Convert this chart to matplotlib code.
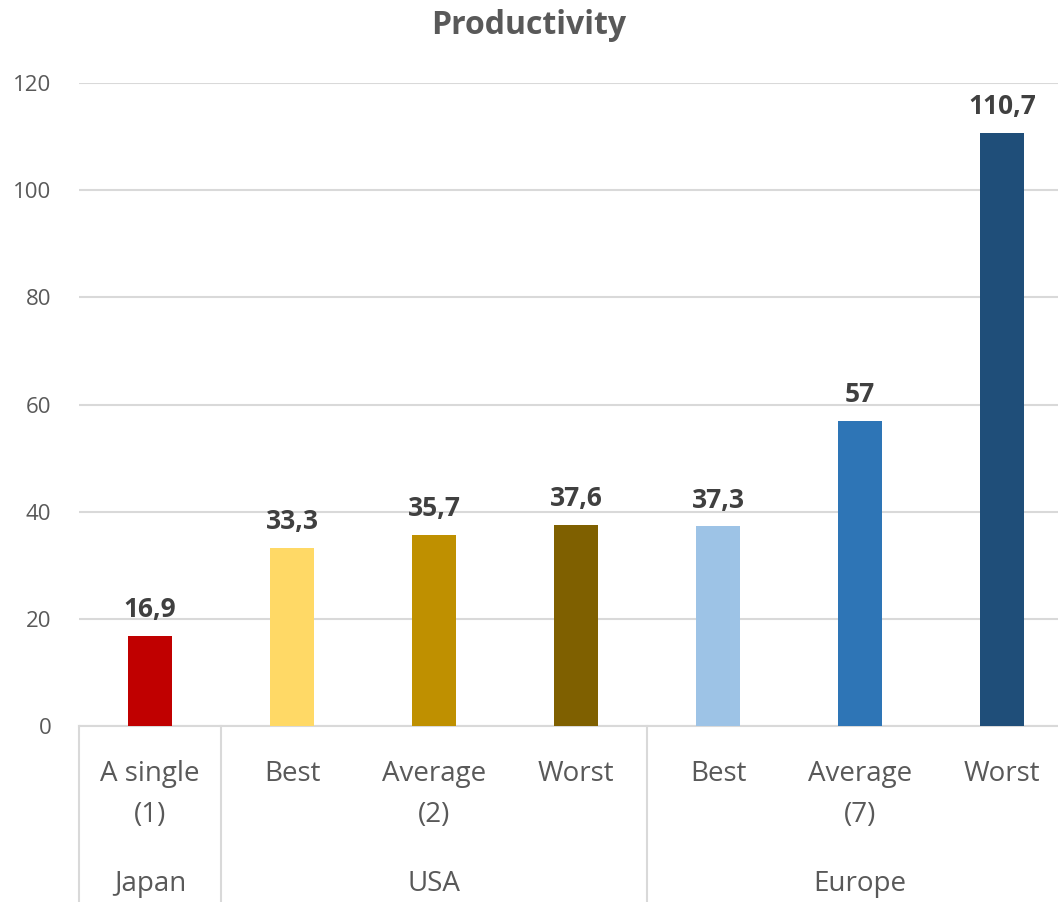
import matplotlib
matplotlib.use("Agg")
import matplotlib.pyplot as plt
from matplotlib.transforms import blended_transform_factory

# data
categories = ["A single\n(1)", "Best", "Average\n(2)", "Worst", "Best", "Average\n(7)", "Worst"]
groups = ["Japan", "USA", "Europe"]
group_sizes = [1, 3, 3]
values = [16.9, 33.3, 35.7, 37.6, 37.3, 57, 110.7]
value_labels = ["16,9", "33,3", "35,7", "37,6", "37,3", "57", "110,7"]
colors = ["#c00000", "#ffd966", "#bf9000", "#7f6000", "#9dc3e6", "#2e75b6", "#1f4e79"]

plt.rcParams['font.family'] = ['Open Sans', 'DejaVu Sans']
txt = "#595959"
grid = "#d9d9d9"

fig = plt.figure(figsize=(10.58, 9.02), dpi=100)
ax = fig.add_axes([0.0747, 0.195, 0.9395, 0.713])

x = list(range(len(values)))
ax.bar(x, values, width=0.31, color=colors, zorder=3)
for xi, v, lab in zip(x, values, value_labels):
    ax.annotate(lab, (xi, v), xytext=(0, 9), textcoords='offset points',
                ha='center', va='bottom', fontsize=19,
                fontweight='bold', color="#404040")

ax.set_xlim(-0.5, len(values) - 0.5)
ax.set_ylim(0, 120)
ax.set_yticks(range(0, 121, 20))
ax.tick_params(axis='y', length=0, labelsize=16, labelcolor=txt, pad=20)
ax.set_xticks([])
ax.grid(axis='y', color=grid, linewidth=1.5, zorder=0)
for s in ['top', 'right', 'left']:
    ax.spines[s].set_visible(False)
ax.spines['bottom'].set_color(grid)
ax.spines['bottom'].set_linewidth(1.5)

fig.text(0.5, 1 - 25 / 902, "Productivity", ha='center', va='center',
         fontsize=23, fontweight='bold', color=txt)

trans = blended_transform_factory(ax.transData, ax.transAxes)
for xi, c in zip(x, categories):
    ax.text(xi, -0.052, c, transform=trans, ha='center', va='top',
            fontsize=20, color=txt, linespacing=1.65)

# group labels and separators
start = 0
bounds = [-0.5]
for g, n in zip(groups, group_sizes):
    center = start + (n - 1) / 2
    ax.text(center, -0.246, g, transform=trans, ha='center', va='center',
            fontsize=20, color=txt)
    start += n
    bounds.append(start - 0.5)
for b in bounds[:-1]:
    ax.plot([b, b], [0, -0.28], transform=trans, color=grid, linewidth=1.5,
            clip_on=False)

fig.savefig("out.png", dpi=100)
